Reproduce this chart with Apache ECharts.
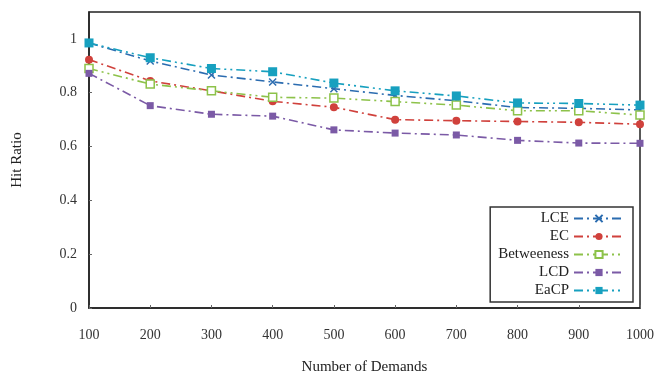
<!DOCTYPE html>
<html>
<head>
<meta charset="utf-8">
<script src="https://cdn.jsdelivr.net/npm/echarts@6/dist/echarts.min.js"></script>
<style>
    html, body { margin: 0; padding: 0; background: #fff; }
    #hitRatioGraph { width: 660px; height: 380px; }
</style>
</head>
<body>
<div id="hitRatioGraph"></div>
<script>
var demands = [100, 200, 300, 400, 500, 600, 700, 800, 900, 1000];
var lceData = [0.985, 0.918, 0.866, 0.840, 0.815, 0.790, 0.770, 0.745, 0.742, 0.736];
var ecData = [0.923, 0.844, 0.807, 0.768, 0.746, 0.700, 0.696, 0.693, 0.690, 0.683];
var betweenessData = [0.890, 0.832, 0.807, 0.783, 0.780, 0.767, 0.754, 0.733, 0.733, 0.717];
var lcdData = [0.872, 0.752, 0.720, 0.713, 0.662, 0.650, 0.643, 0.623, 0.613, 0.612];
var eacpData = [0.985, 0.930, 0.890, 0.878, 0.836, 0.807, 0.788, 0.762, 0.760, 0.754];

var hitRatioEchart;
var serifFont = '"Liberation Serif", "DejaVu Serif", serif';

function pairUp(values) {
    return values.map(function (v, i) {
        return [demands[i], v];
    });
}

function makeSeries(name, values, color, dash, symbol, symbolSize, filled) {
    return {
        name: name,
        type: 'line',
        data: pairUp(values),
        symbol: symbol,
        symbolSize: symbolSize,
        showAllSymbol: true,
        itemStyle: {
            color: filled ? color : '#fff',
            borderColor: color,
            borderWidth: filled ? 0 : 1.5
        },
        lineStyle: {
            color: color,
            width: 1.6,
            type: dash
        }
    };
}

function initHitRatioGraph() {
    hitRatioEchart = echarts.init(document.getElementById('hitRatioGraph'));
    var crossPath = 'path://M0,0L10,10M10,0L0,10';
    var options = {
        animation: false,
        textStyle: { fontFamily: serifFont },
        grid: {
            left: 89,
            right: 20,
            top: 12,
            bottom: 71,
            show: true,
            borderColor: '#222',
            borderWidth: 1.5
        },
        legend: {
            orient: 'vertical',
            right: 27,
            bottom: 78,
            align: 'right',
            itemWidth: 50,
            itemHeight: 9,
            itemGap: 3,
            padding: [4, 8, 4, 8],
            borderColor: '#333',
            borderWidth: 1.5,
            backgroundColor: '#fff',
            textStyle: {
                fontFamily: serifFont,
                fontSize: 15,
                color: '#222'
            }
        },
        xAxis: {
            type: 'value',
            min: 100,
            max: 1000,
            interval: 100,
            name: 'Number of Demands',
            nameLocation: 'middle',
            nameGap: 52,
            nameTextStyle: { fontFamily: serifFont, fontSize: 15, color: '#222' },
            axisLine: { show: true, lineStyle: { color: '#222', width: 1.5 } },
            axisTick: { show: true, inside: true, length: 3, lineStyle: { color: '#666' } },
            axisLabel: {
                fontFamily: serifFont, fontSize: 14, color: '#333', margin: 20,
                formatter: function (v) { return String(v); }
            },
            splitLine: { show: false }
        },
        yAxis: {
            type: 'value',
            min: 0,
            max: 1.1,
            interval: 0.2,
            name: 'Hit Ratio',
            nameLocation: 'middle',
            nameGap: 64,
            nameTextStyle: { fontFamily: serifFont, fontSize: 15, color: '#222' },
            axisLine: { show: true, lineStyle: { color: '#222', width: 1.5 } },
            axisTick: { show: true, inside: true, length: 3, lineStyle: { color: '#666' } },
            axisLabel: { fontFamily: serifFont, fontSize: 14, color: '#333', margin: 12, showMaxLabel: false },
            splitLine: { show: false }
        },
        series: [
            makeSeries('LCE', lceData, '#2b6cb0', [9, 4, 2, 4], crossPath, 7, false),
            makeSeries('EC', ecData, '#d0413c', [9, 4, 2, 4], 'circle', 8, true),
            makeSeries('Betweeness', betweenessData, '#8dc24a', [9, 4, 2, 4, 2, 4], 'rect', 8, false),
            makeSeries('LCD', lcdData, '#7b5aa6', [9, 4, 2, 4], 'rect', 7, true),
            makeSeries('EaCP', eacpData, '#17a0bf', [9, 4, 2, 4, 2, 4], 'rect', 9, true)
        ]
    };
    hitRatioEchart.setOption(options);
}

initHitRatioGraph();
window.addEventListener('resize', function () {
    hitRatioEchart.resize();
});
</script>
</body>
</html>
